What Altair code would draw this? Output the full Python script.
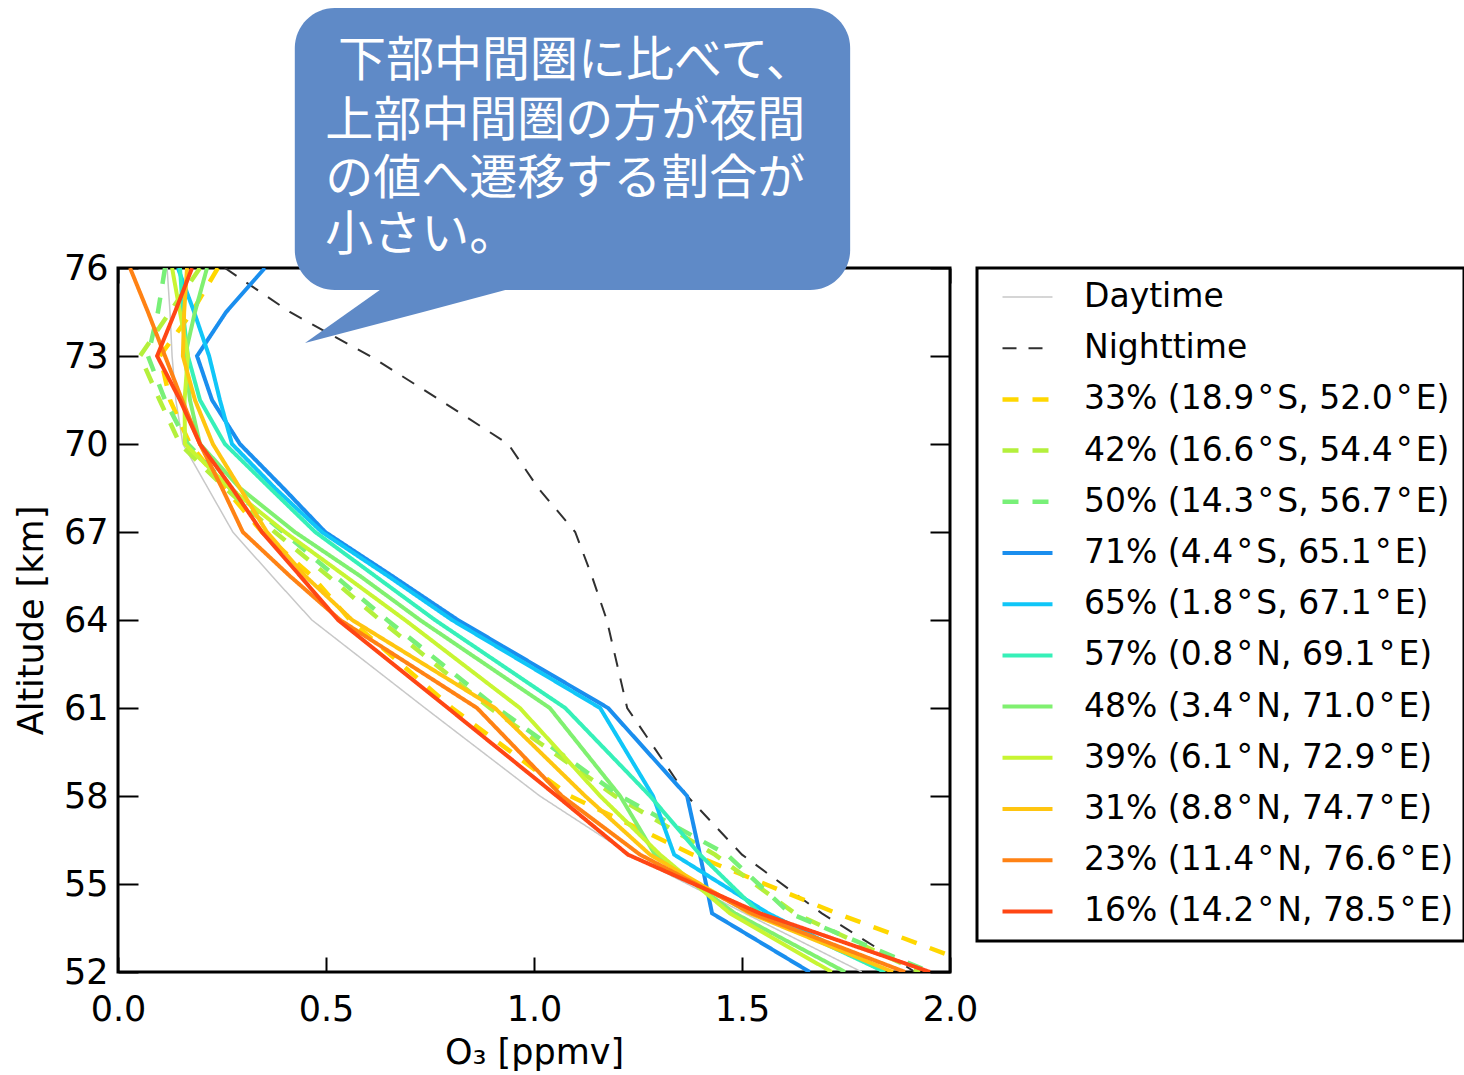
import altair as alt
import pandas as pd

# ---------------- data ----------------
altitudes = [76, 74.5, 73, 71.5, 70, 68.5, 67, 65.5, 64, 61, 58, 56, 54, 52]

daytime   = [0.118, 0.125, 0.130, 0.139, 0.156, 0.216, 0.276, 0.370, 0.466, 0.738, 1.014, 1.231, 1.507, 1.788]
nighttime = [0.257, 0.413, 0.606, 0.774, 0.938, 1.010, 1.099, 1.139, 1.175, 1.224, 1.368, 1.500, 1.692, 1.916]
p33 = [0.240, 0.178, 0.101, 0.125, 0.173, 0.257, 0.346, 0.466, 0.558, 0.803, 1.087, 1.382, 1.728, 2.106]
p42 = [0.197, 0.125, 0.053, 0.100, 0.149, 0.257, 0.377, 0.505, 0.630, 0.894, 1.195, 1.435, 1.627, 1.928]
p50 = [0.113, 0.096, 0.072, 0.113, 0.168, 0.269, 0.397, 0.522, 0.647, 0.911, 1.207, 1.464, 1.615, 1.952]
p71 = [0.353, 0.260, 0.190, 0.226, 0.293, 0.397, 0.498, 0.659, 0.817, 1.178, 1.368, 1.399, 1.428, 1.663]
p65 = [0.144, 0.183, 0.219, 0.245, 0.274, 0.377, 0.490, 0.649, 0.803, 1.159, 1.286, 1.337, 1.563, 1.844]
p57 = [0.149, 0.156, 0.168, 0.197, 0.257, 0.365, 0.474, 0.618, 0.762, 1.075, 1.279, 1.399, 1.543, 1.844]
p48 = [0.214, 0.185, 0.161, 0.173, 0.197, 0.293, 0.425, 0.582, 0.726, 1.038, 1.207, 1.291, 1.483, 1.748]
p39 = [0.130, 0.149, 0.168, 0.160, 0.161, 0.269, 0.401, 0.546, 0.690, 0.966, 1.159, 1.303, 1.471, 1.716]
p31 = [0.166, 0.159, 0.156, 0.185, 0.228, 0.293, 0.358, 0.450, 0.563, 0.906, 1.123, 1.279, 1.519, 1.863]
p23 = [0.029, 0.072, 0.113, 0.154, 0.197, 0.250, 0.300, 0.413, 0.534, 0.863, 1.067, 1.255, 1.524, 1.892]
p16 = [0.178, 0.137, 0.094, 0.149, 0.197, 0.274, 0.346, 0.438, 0.529, 0.793, 1.055, 1.226, 1.543, 1.952]

D = "\u200a°\u200a"
labels = [
    "Daytime",
    "Nighttime",
    f"33% (18.9{D}S, 52.0{D}E)",
    f"42% (16.6{D}S, 54.4{D}E)",
    f"50% (14.3{D}S, 56.7{D}E)",
    f"71% (4.4{D}S, 65.1{D}E)",
    f"65% (1.8{D}S, 67.1{D}E)",
    f"57% (0.8{D}N, 69.1{D}E)",
    f"48% (3.4{D}N, 71.0{D}E)",
    f"39% (6.1{D}N, 72.9{D}E)",
    f"31% (8.8{D}N, 74.7{D}E)",
    f"23% (11.4{D}N, 76.6{D}E)",
    f"16% (14.2{D}N, 78.5{D}E)",
]
series_values = [daytime, nighttime, p33, p42, p50, p71, p65, p57, p48, p39, p31, p23, p16]
colors = ["#c8c8c8", "#303030", "#ffd700", "#b4f03c", "#78f078", "#1a8eee", "#10c6f8",
          "#36f0b8", "#80f070", "#c8f532", "#ffc510", "#ff8214", "#ff4614"]
dashes = [[1, 0], [14, 12], [16, 14], [16, 14], [16, 14], [1, 0], [1, 0],
          [1, 0], [1, 0], [1, 0], [1, 0], [1, 0], [1, 0]]
widths = [1.5, 2, 4.5, 4.5, 4.5, 4, 4, 4, 4, 4, 4, 4, 4]

x_ticks = [0.0, 0.5, 1.0, 1.5, 2.0]
y_ticks = [52, 55, 58, 61, 64, 67, 70, 73, 76]

# callout annotation (in data coordinates)
bubble_x = [0.425]
bubble_x2 = [1.76]
bubble_y = [84.86]
bubble_y2 = [75.25]
pointer_x = [0.4495, 0.738, 1.221]
pointer_y = [73.44, 74.52, 76.34]
pointer_y2 = [73.44, 76.34, 76.34]
callout_lines = ["下部中間圏に比べて、", "上部中間圏の方が夜間", "の値へ遷移する割合が", "小さい。"]
callout_x = [0.529, 0.498, 0.498, 0.498]
callout_y = [83.02, 80.98, 79.0, 77.09]

# ---------------- build tables ----------------
rows = []
for lab, vals in zip(labels, series_values):
    for a, v in zip(altitudes, vals):
        rows.append({"series": lab, "alt": a, "o3": v})
df = pd.DataFrame(rows)

bubble_df = pd.DataFrame({"x": bubble_x, "x2": bubble_x2, "y": bubble_y, "y2": bubble_y2})
pointer_df = pd.DataFrame({"x": pointer_x, "y": pointer_y, "y2": pointer_y2})
text_df = pd.DataFrame({"t": callout_lines, "x": callout_x, "y": callout_y})

x_scale = alt.Scale(domain=[0, 2], nice=False, zero=False)
y_scale = alt.Scale(domain=[52, 76], nice=False, zero=False)

FONT = "DejaVu Sans"

legend = alt.Legend(
    title=None, orient="none", legendX=859, legendY=0,
    symbolType="stroke", symbolSize=2500, clipHeight=38, rowPadding=13.2,
    padding=10, symbolOffset=13, labelOffset=29,
    labelFont=FONT, labelFontSize=33, labelColor="black", labelLimit=800,
    strokeColor="black",
)

lines = alt.Chart(df).mark_line(clip=True).encode(
    x=alt.X("o3:Q", scale=x_scale, title="O₃ [ppmv]",
            axis=alt.Axis(orient="bottom", values=x_ticks, format=".1f", offset=-15,
                          tickSize=15, tickWidth=2, tickColor="black", domain=False, grid=False,
                          labelFont=FONT, labelFontSize=35, labelColor="black", labelPadding=20,
                          labelFlush=False, labelBound=False,
                          titleFont=FONT, titleFontSize=35, titleFontWeight="normal",
                          titleColor="black", titlePadding=8)),
    y=alt.Y("alt:Q", scale=y_scale, title="Altitude [km]",
            axis=alt.Axis(orient="left", values=y_ticks, offset=-20,
                          tickSize=20, tickWidth=2, tickColor="black", domain=False, grid=False,
                          labelFont=FONT, labelFontSize=35, labelColor="black", labelPadding=10,
                          labelFlush=False, labelBound=False,
                          titleFont=FONT, titleFontSize=35, titleFontWeight="normal",
                          titleColor="black", titlePadding=14)),
    color=alt.Color("series:O", sort=labels,
                    scale=alt.Scale(type="ordinal", domain=labels, range=colors), legend=legend),
    strokeDash=alt.StrokeDash("series:O", sort=labels,
                              scale=alt.Scale(type="ordinal", domain=labels, range=dashes), legend=legend),
    strokeWidth=alt.StrokeWidth("series:O", sort=labels,
                                scale=alt.Scale(type="ordinal", domain=labels, range=widths), legend=legend),
    order=alt.Order("alt:Q", sort="descending"),
)

mirror = alt.Chart(df).mark_point(opacity=0).encode(
    x=alt.X("o3:Q", scale=x_scale,
            axis=alt.Axis(orient="top", values=x_ticks, offset=-15, tickSize=15, tickWidth=2,
                          tickColor="black", domain=False, grid=False, labels=False, title=None)),
    y=alt.Y("alt:Q", scale=y_scale,
            axis=alt.Axis(orient="right", values=y_ticks, offset=-20, tickSize=20, tickWidth=2,
                          tickColor="black", domain=False, grid=False, labels=False, title=None)),
)

BUBBLE = "#5f8ac7"
bubble = alt.Chart(bubble_df).mark_rect(cornerRadius=40, color=BUBBLE).encode(
    x=alt.X("x:Q", scale=x_scale, axis=None), x2="x2:Q",
    y=alt.Y("y:Q", scale=y_scale, axis=None), y2="y2:Q",
)
pointer = alt.Chart(pointer_df).mark_area(color=BUBBLE, orient="vertical").encode(
    x=alt.X("x:Q", scale=x_scale, axis=None),
    y=alt.Y("y:Q", scale=y_scale, axis=None), y2="y2:Q",
)
texts = alt.Chart(text_df).mark_text(
    align="left", baseline="middle", font="Noto Sans CJK JP", fontSize=48, color="white"
).encode(
    x=alt.X("x:Q", scale=x_scale, axis=None),
    y=alt.Y("y:Q", scale=y_scale, axis=None),
    text="t:N",
)

chart = alt.layer(lines, mirror, pointer, bubble, texts).resolve_axis(
    x="independent", y="independent"
).properties(
    width=832, height=704,
    autosize=alt.AutoSizeParams(type="none"),
    padding={"left": 118, "top": 268, "right": 514, "bottom": 103},
    background="white",
).configure_view(
    stroke="black", strokeWidth=3
).configure_legend(
    strokeWidth=3
)

chart.save("out.html", embed_options={"renderer": "svg", "actions": False})
